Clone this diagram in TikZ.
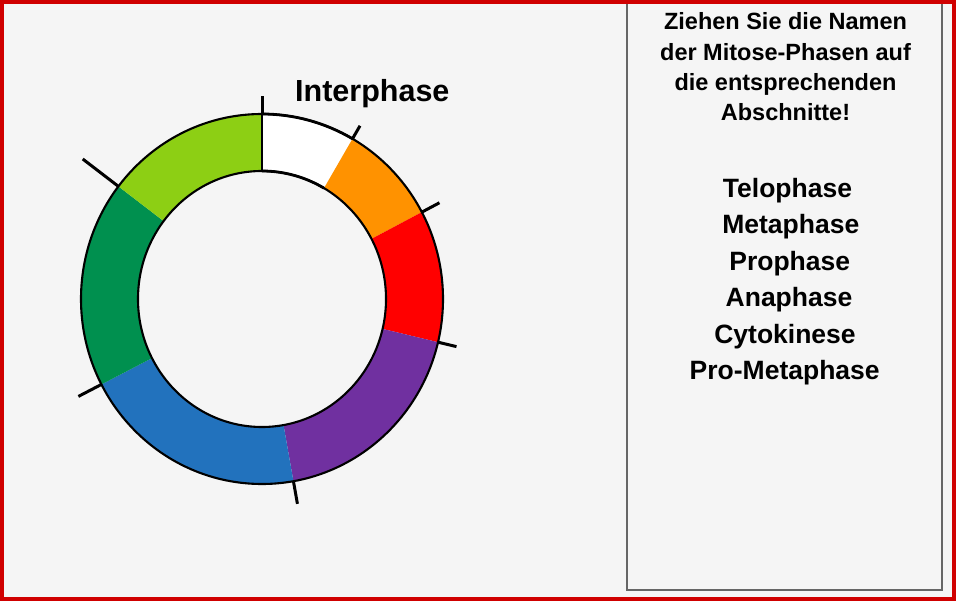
\documentclass[tikz,border=0pt]{standalone}
\usepackage{fontspec}
\setmainfont{Liberation Sans}
\definecolor{bg}{HTML}{F5F5F5}
\definecolor{frame}{HTML}{D00000}
\definecolor{panel}{HTML}{666666}
\definecolor{lgreen}{HTML}{8DCF14}
\definecolor{dgreen}{HTML}{00904F}
\definecolor{cblue}{HTML}{2272BD}
\definecolor{cpurple}{HTML}{7030A0}
\definecolor{cred}{HTML}{FF0000}
\definecolor{corange}{HTML}{FF9200}
\begin{document}
\begin{tikzpicture}[x=1pt,y=1pt,
  headtxt/.style={font=\bfseries\fontsize{23.5}{28}\selectfont, anchor=base, inner sep=0pt},
  phasetxt/.style={font=\bfseries\fontsize{26.5}{32}\selectfont, anchor=base, inner sep=0pt},
  ringline/.style={line width=2.1pt, draw=black},
  tickline/.style={line width=3pt, draw=black},
]
\useasboundingbox (0,0) rectangle (956,-601);
\fill[bg] (0,0) rectangle (956,-601);
% panel
\draw[panel, line width=1.3pt] (627,-1) rectangle (942,-590);
% ring
\begin{scope}[shift={(262,-299)}]
  \newcommand{\seg}[3]{%
    \fill[#3] (#1:181 and 185) arc[start angle=#1, end angle=#2, x radius=181, y radius=185]
      -- (#2:124 and 128) arc[start angle=#2, end angle=#1, x radius=124, y radius=128] -- cycle;}
  \seg{60}{90}{white}
  \seg{28}{60}{corange}
  \seg{-13.5}{28}{cred}
  \seg{-80}{-13.5}{cpurple}
  \seg{-152.5}{-80}{cblue}
  \seg{142.5}{207.5}{dgreen}
  \seg{90}{142.5}{lgreen}
  \draw[ringline] (0,0) ellipse[x radius=181, y radius=185];
  \draw[ringline] (0,0) ellipse[x radius=124, y radius=128];
  \draw[line width=2.6pt] (90:124 and 128) -- (90:181 and 185);
  \draw[line width=2.8pt] (60:181 and 185) arc[start angle=60, end angle=90, x radius=181, y radius=185];
  \draw[line width=2.8pt] (60:124 and 128) arc[start angle=60, end angle=90, x radius=124, y radius=128];
  % ticks
  \draw[tickline] (90:181 and 185) -- (90:199 and 203);
  \draw[tickline] (60:181 and 185) -- (60:196 and 200);
  \draw[tickline] (28:181 and 185) -- (28:201 and 205);
  \draw[tickline] (-13.5:181 and 185) -- (-13.5:200 and 204);
  \draw[tickline] (-80:181 and 185) -- (-80:204 and 208);
  \draw[tickline] (207.5:181 and 185) -- (207.5:207 and 211);
  \draw[tickline] (142.5:181 and 185) -- (142.5:226 and 230);
\end{scope}
\node[font=\bfseries\fontsize{30.5}{36}\selectfont, anchor=base west, inner sep=0pt] (inter) at (295,-102) {Interphase};
% heading
\node[headtxt] (h1) at (785.5,-30) {Ziehen Sie die Namen};
\node[headtxt] (h2) at (785.5,-60.5) {der Mitose-Phasen auf};
\node[headtxt] (h3) at (785.5,-91) {die entsprechenden};
\node[headtxt] (h4) at (785.5,-121) {Abschnitte!};
% phases
\node[phasetxt] (p1) at (787.5,-197.3) {Telophase};
\node[phasetxt] (p2) at (790.8,-234) {Metaphase};
\node[phasetxt] (p3) at (789.7,-270.5) {Prophase};
\node[phasetxt] (p4) at (789,-307) {Anaphase};
\node[phasetxt] (p5) at (785,-343.5) {Cytokinese};
\node[phasetxt] (p6) at (784.7,-380) {Pro-Metaphase};
% red frame
\draw[frame, line width=3.6pt] (1.8,-1.8) rectangle (954.2,-599.2);
\end{tikzpicture}
\end{document}
